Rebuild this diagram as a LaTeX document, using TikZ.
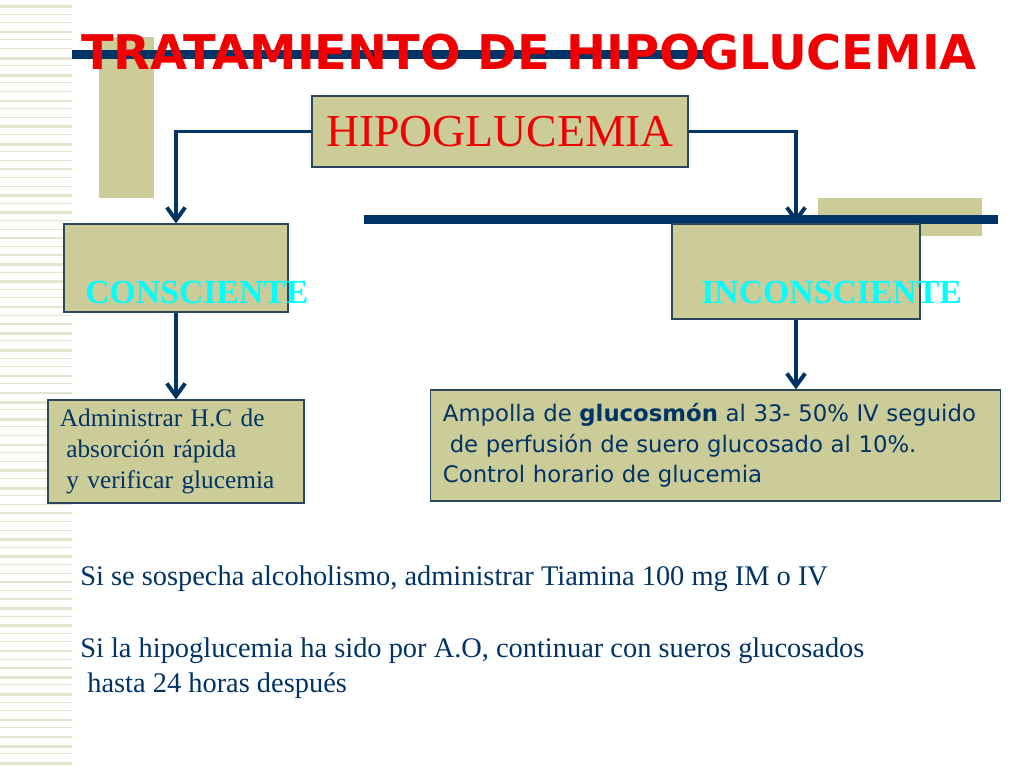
\documentclass[tikz,border=0pt]{standalone}
\usepackage{fontspec}
\setmainfont{Liberation Serif}
\newfontfamily\sansfont{DejaVu Sans}
\usetikzlibrary{arrows.meta}

\definecolor{khaki}{RGB}{204,204,153}
\definecolor{navy}{RGB}{0,51,102}
\definecolor{edge}{RGB}{44,72,92}
\definecolor{stripe}{RGB}{230,228,206}
\definecolor{titlered}{RGB}{240,0,0}
\definecolor{aqua}{RGB}{0,255,255}

\begin{document}
\begin{tikzpicture}[x=0.025cm,y=-0.025cm,>={Straight Barb[length=9pt,width=13pt]}]
	\tikzstyle{box} = [draw=edge,fill=khaki,line width=0.8pt,inner sep=0pt]
	\tikzstyle{bar} = [navy,line width=6.4pt]
	\tikzstyle{link} = [navy,line width=2.8pt,->]
	\tikzstyle{statelabel} = [aqua,anchor=base west,inner sep=0pt,font=\bfseries\fontsize{24pt}{28pt}\selectfont]
	\tikzstyle{note} = [navy,anchor=base west,align=left,inner sep=0pt,font=\fontsize{20.2pt}{24.2pt}\selectfont]
	\useasboundingbox (0,0) rectangle (1024,768);
	% stripes on the left
	\foreach \i in {0,...,88} {
		\pgfmathsetmacro\w{{3,1,1,2,1,1.5,3,1}[mod(\i,8)]}
		\fill[stripe] (0,5+\i*8.6) rectangle +(72,\w);
	}
	% khaki blocks
	\fill[khaki] (99,37) rectangle (154,198);
	\fill[khaki] (818,198) rectangle (982,236);
	% rules
	\draw[bar] (72,55) -- (704,55);
	\draw[bar] (364,219) -- (998,219);
	% title
	\node[titlered,font=\sansfont\bfseries\fontsize{34pt}{40pt}\selectfont] (title) at (529,52) {TRATAMIENTO DE HIPOGLUCEMIA};
	% top box
	\node[box,minimum width=9.4cm,minimum height=1.775cm,text=titlered,font=\fontsize{32.5pt}{38pt}\selectfont] (hipo) at (500,131.5) {HIPOGLUCEMIA};
	% state boxes
	\node[box,minimum width=5.6cm,minimum height=2.2cm] (consc) at (176,268) {};
	\node[box,minimum width=6.2cm,minimum height=2.375cm] (incon) at (796,271.5) {};
	\node[statelabel] (consctxt) at (85,303) {CONSCIENTE};
	\node[statelabel] (incontxt) at (701,303) {INCONSCIENTE};
	% action boxes
	\node[box,minimum width=6.4cm,minimum height=2.575cm,text width=5.8cm,align=left,text=navy,font=\fontsize{18pt}{22pt}\selectfont] (hc) at (176,451.5)
		{Administrar H.C de\\\hspace*{0.25em}absorción rápida\\\hspace*{0.25em}y verificar glucemia};
	\node[box,minimum width=14.225cm,minimum height=2.775cm,text width=13.625cm,align=left,text=navy,font=\sansfont\fontsize{16.2pt}{21.7pt}\selectfont] (amp) at (715.5,445.5)
		{Ampolla de \textbf{glucosmón} al 33- 50\% IV seguido\\\hspace*{0.3em}de perfusión de suero glucosado al 10\%.\\Control horario de glucemia};
	% connectors
	\draw[link] (hipo.west) -| (consc.north);
	\draw[link] (hipo.east) -| (incon.north);
	\draw[link] (consc.south) -- (hc.north);
	\draw[link] (incon.south) -- (incon.south |- amp.north);
	% notes
	\node[note] (note1) at (80,585) {Si se sospecha alcoholismo, administrar Tiamina 100 mg IM o IV};
	\node[note] (note2) at (80,692) {Si la hipoglucemia ha sido por A.O, continuar con sueros glucosados\\\hspace*{0.25em}hasta 24 horas después};
\end{tikzpicture}
\end{document}
